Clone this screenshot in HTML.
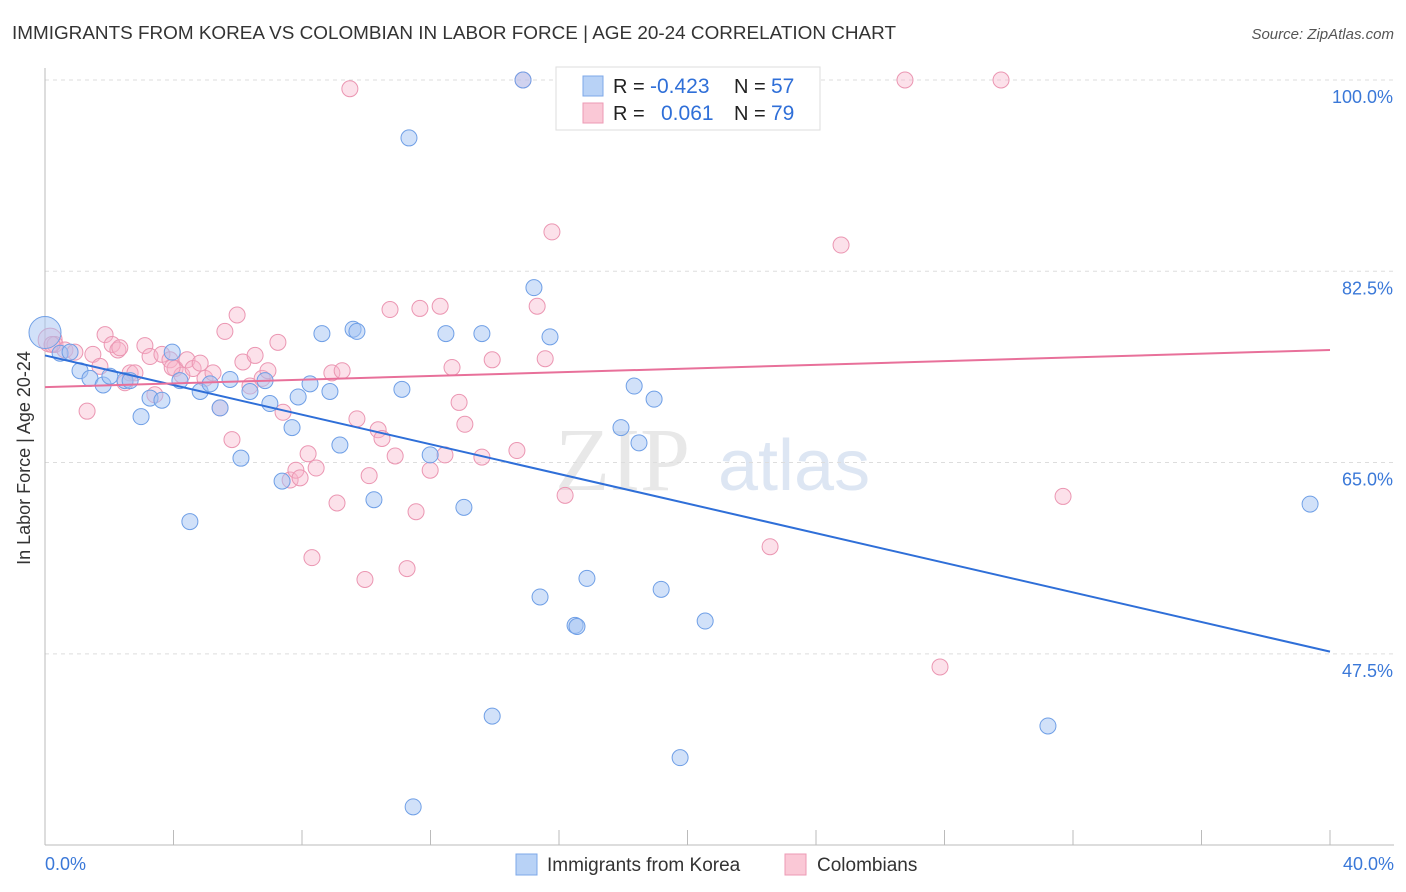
<!DOCTYPE html>
<html><head><meta charset="utf-8"><style>
body{margin:0;background:#fff;font-family:"Liberation Sans",sans-serif;}
svg{display:block}
</style></head><body>
<svg id="chart" width="1406" height="892" font-family="Liberation Sans, sans-serif">
<text x="12" y="39" font-size="18" fill="#333" textLength="884" lengthAdjust="spacingAndGlyphs">IMMIGRANTS FROM KOREA VS COLOMBIAN IN LABOR FORCE | AGE 20-24 CORRELATION CHART</text>
<text x="1394" y="39" font-size="15" fill="#555" font-style="italic" text-anchor="end">Source: ZipAtlas.com</text>
<text x="30" y="458" font-size="18" fill="#333" text-anchor="middle" transform="rotate(-90 30 458)">In Labor Force | Age 20-24</text>
<g><text x="555" y="490" font-size="90" fill="#e8e8e8" font-family="Liberation Serif, serif">ZIP</text><text x="718" y="490" font-size="72" fill="#dde6f3">atlas</text></g>
<g id="grid"></g><g id="axes"></g><g id="pts"></g><g id="trend"></g>
<g>
<rect x="556" y="67" width="264" height="63" fill="#fff" stroke="#ddd"/>
<rect x="583" y="76" width="20" height="20" fill="#b8d2f6" stroke="#7ea8e8"/>
<rect x="583" y="103" width="20" height="20" fill="#fac8d6" stroke="#ec9ab4"/>
<text x="613" y="93" font-size="20" fill="#222">R = </text><text x="650" y="93" font-size="21" fill="#2f6fd8">-0.423</text>
<text x="734" y="93" font-size="20" fill="#222">N = </text><text x="771" y="93" font-size="21" fill="#2f6fd8">57</text>
<text x="613" y="120" font-size="20" fill="#222">R = </text><text x="661" y="120" font-size="21" fill="#2f6fd8">0.061</text>
<text x="734" y="120" font-size="20" fill="#222">N = </text><text x="771" y="120" font-size="21" fill="#2f6fd8">79</text>
</g>
<g>
<rect x="516" y="854" width="21" height="21" fill="#b8d2f6" stroke="#7ea8e8"/>
<text x="547" y="871" font-size="19" fill="#333">Immigrants from Korea</text>
<rect x="785" y="854" width="21" height="21" fill="#fac8d6" stroke="#ec9ab4"/>
<text x="817" y="871" font-size="19" fill="#333">Colombians</text>
</g>
</svg>
<script>
const yTicks=[100,82.5,65,47.5];
const xTickLabels=["0.0%","40.0%"];
const koreaX=[0,0.47,0.78,1.09,1.4,1.81,2.02,2.49,2.65,2.99,3.27,3.64,3.96,4.2,4.51,4.83,5.14,5.45,5.76,6.1,6.38,6.85,7.0,7.38,7.69,7.88,8.25,8.62,8.87,9.18,9.59,9.71,10.24,11.11,11.33,11.46,11.99,12.48,13.04,13.6,13.92,14.88,15.22,15.41,15.72,16.5,16.56,16.87,17.93,18.34,18.49,18.96,19.18,19.77,20.55,31.22,39.38];
const koreaY=[76.9,75.0,75.1,73.4,72.7,72.1,72.9,72.5,72.5,69.2,70.9,70.7,75.1,72.5,59.6,71.5,72.2,70.0,72.6,65.4,71.5,72.5,70.4,63.3,68.2,71.0,72.2,76.8,71.5,66.6,77.2,77.0,61.6,71.7,94.7,33.5,65.7,76.8,60.9,76.8,41.8,100,81.0,52.7,76.5,50.1,50.0,54.4,68.2,72.0,66.8,70.8,53.4,38.0,50.5,40.9,61.2];
const colX=[0.16,0.31,0.62,0.93,1.31,1.49,1.71,1.87,2.09,2.27,2.49,2.65,2.8,3.11,3.27,3.42,3.64,3.89,4.05,4.26,4.42,4.61,4.83,4.98,5.23,5.45,5.6,5.82,5.98,6.16,6.38,6.54,6.76,6.94,7.25,7.41,7.63,7.81,7.94,8.19,8.31,8.44,8.93,9.09,9.25,9.49,9.71,9.96,10.09,10.37,10.49,10.74,10.9,11.27,11.55,11.67,11.99,12.3,12.45,12.67,12.89,13.07,13.6,13.92,14.69,14.88,15.32,15.57,15.78,16.19,22.57,24.78,26.77,27.86,29.76,31.69,0.22,2.33,3.96];
const colY=[76.2,75.8,75.3,75.1,69.7,74.9,73.8,76.7,75.8,75.3,72.3,73.2,73.2,75.7,74.7,71.2,74.9,74.4,73.6,73.0,74.4,73.6,74.1,72.7,73.2,70.0,77.0,67.1,78.5,74.2,72.0,74.8,72.7,73.4,76.0,69.6,63.4,64.3,63.6,65.8,56.3,64.5,73.2,61.3,73.4,99.2,69.0,54.3,63.8,68.0,67.2,79.0,65.6,55.3,60.5,79.1,64.3,79.3,65.7,73.7,70.5,68.5,65.5,74.4,66.1,100,79.3,74.5,86.1,62.0,57.3,84.9,100,46.3,100,61.9,75.8,75.5,73.7];
const koreaTrend=[74.8,47.7];
const colTrend=[71.9,75.3];
const X=v=>45+v/40*1285;
const Y=v=>80+(100-v)*10.93;
const NS="http://www.w3.org/2000/svg";
function mk(tag,parent,attrs){const e=document.createElementNS(NS,tag);for(const k in attrs)e.setAttribute(k,attrs[k]);parent.appendChild(e);return e;}
const grid=document.getElementById('grid'),axes=document.getElementById('axes'),pts=document.getElementById('pts'),tr=document.getElementById('trend');
yTicks.forEach(t=>{
 const l=mk('line',grid,{x1:45,x2:1394,y1:Y(t),y2:Y(t),stroke:'#ddd','stroke-dasharray':'4,4'});
 
 
 const tx=mk('text',axes,{x:1393,y:Y(t)+23,'font-size':18,fill:'#3a78d8','text-anchor':'end'});
 tx.textContent=t.toFixed(1)+'%';
 
 
});
mk('line',axes,{x1:45,x2:45,y1:68,y2:845,stroke:'#bbb'});
mk('line',axes,{x1:45,x2:1394,y1:845,y2:845,stroke:'#bbb'});
for(let i=0;i<=10;i++){const x=X(i*4);const t=mk('line',axes,{x1:x,x2:x,y1:830,y2:845,stroke:'#bbb'});
 
 }
[[0,'start',45],[40,'end',1394]].forEach((d,i)=>{const t=mk('text',axes,{x:d[2],y:870,'font-size':18,fill:'#3a78d8','text-anchor':d[1]});t.textContent=xTickLabels[i];
 
 });
function series(xs,ys,fill,stroke,name){xs.forEach((x,i)=>{const r=(i===0&&xs===koreaX)?16:(i===0?12:8);
 const c=mk('circle',pts,{cx:X(x),cy:Y(ys[i]),r:r,fill:fill,stroke:stroke,'stroke-width':1});
 
 });}
series(colX,colY,'rgba(248,180,202,0.4)','#eb96b2','colombian-point');
series(koreaX,koreaY,'rgba(164,196,244,0.5)','#6f9fe6','korea-point');
const t1=mk('line',tr,{x1:X(0),y1:Y(koreaTrend[0]),x2:X(40),y2:Y(koreaTrend[1]),stroke:'#2f6fd8','stroke-width':2});


const t2=mk('line',tr,{x1:X(0),y1:Y(colTrend[0]),x2:X(40),y2:Y(colTrend[1]),stroke:'#e8709a','stroke-width':2});


</script>
</body></html>
